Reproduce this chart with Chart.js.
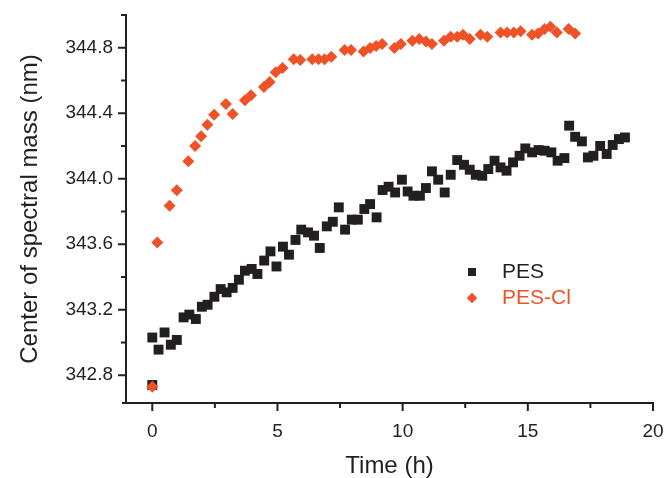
<!DOCTYPE html>
<html>
<head>
<meta charset="utf-8">
<script src="https://cdn.jsdelivr.net/npm/chart.js@4.4.1/dist/chart.umd.min.js"></script>
<style>
  html, body { margin: 0; padding: 0; background: #fff; }
  #chart { display: block; }
</style>
</head>
<body>
<canvas id="chart" width="668" height="478"></canvas>
<script>
// PES (black squares)
const pesTime = [0, 0, 0.25, 0.49, 0.74, 0.98, 1.25, 1.48, 1.74, 1.98, 2.21, 2.48, 2.73, 2.97, 3.21, 3.46, 3.7, 3.97, 4.2, 4.47,
  4.72, 4.96, 5.22, 5.46, 5.72, 5.95, 6.22, 6.46, 6.69, 6.97, 7.21, 7.45, 7.7, 7.97, 8.21, 8.47, 8.7, 8.96, 9.2, 9.44,
  9.7, 9.97, 10.2, 10.43, 10.69, 10.93, 11.17, 11.42, 11.68, 11.92, 12.18, 12.45, 12.68, 12.92, 13.18, 13.42, 13.67, 13.91, 14.15, 14.41,
  14.67, 14.9, 15.17, 15.43, 15.67, 15.94, 16.19, 16.46, 16.65, 16.89, 17.16, 17.4, 17.62, 17.89, 18.15, 18.39, 18.64, 18.88];
const pesCenter = [342.74, 343.03, 342.956, 343.061, 342.986, 343.015, 343.153, 343.17, 343.143, 343.218, 343.23, 343.279, 343.326, 343.306, 343.333, 343.383, 343.438, 343.449, 343.418, 343.5,
  343.556, 343.464, 343.585, 343.536, 343.626, 343.689, 343.672, 343.652, 343.577, 343.709, 343.737, 343.825, 343.689, 343.75, 343.75, 343.815, 343.845, 343.764, 343.931, 343.951,
  343.916, 343.994, 343.922, 343.896, 343.896, 343.943, 344.045, 343.994, 343.916, 344.024, 344.114, 344.085, 344.055, 344.024, 344.018, 344.059, 344.11, 344.069, 344.049, 344.1,
  344.14, 344.185, 344.161, 344.175, 344.171, 344.161, 344.11, 344.126, 344.324, 344.256, 344.228, 344.13, 344.14, 344.2, 344.151, 344.206, 344.242, 344.252];

// PES-Cl (orange diamonds)
const pesClTime = [0, 0.2, 0.69, 0.98, 1.44, 1.71, 1.95, 2.2, 2.47, 2.94, 3.21, 3.7, 3.94, 4.46, 4.69, 4.93, 5.2, 5.65, 5.91, 6.39,
  6.64, 6.88, 7.15, 7.68, 7.94, 8.44, 8.7, 8.94, 9.18, 9.67, 9.93, 10.39, 10.66, 10.93, 11.17, 11.65, 11.92, 12.18, 12.41, 12.68,
  13.11, 13.38, 13.91, 14.17, 14.44, 14.71, 15.17, 15.41, 15.67, 15.9, 16.16, 16.63, 16.89];
const pesClCenter = [342.73, 343.61, 343.835, 343.93, 344.106, 344.2, 344.26, 344.33, 344.39, 344.456, 344.395, 344.48, 344.51, 344.56, 344.59, 344.65, 344.676, 344.73, 344.725, 344.73,
  344.73, 344.73, 344.745, 344.786, 344.786, 344.777, 344.798, 344.81, 344.823, 344.798, 344.823, 344.843, 344.853, 344.838, 344.823, 344.843, 344.867, 344.867, 344.879, 344.853,
  344.879, 344.867, 344.893, 344.893, 344.893, 344.9, 344.879, 344.887, 344.914, 344.928, 344.893, 344.914, 344.887];

const seriesLabels = ['PES', 'PES-Cl'];
const xTickLabels = [0, 5, 10, 15, 20];
const xMinorTicks = [2.5, 7.5, 12.5, 17.5];
const yTickLabels = [342.8, 343.2, 343.6, 344.0, 344.4, 344.8];
const yMinorTicks = [343.0, 343.4, 343.8, 344.2, 344.6, 345.0];

const INK = '#231F20';
const ORANGE = '#F05228';
const FONT = '"Liberation Sans", Arial, sans-serif';

const toPoints = (xs, ys) => xs.map((x, i) => ({ x: x, y: ys[i] }));

// tick marks of two lengths, drawn outward from the axes
const tickMarks = {
  id: 'tickMarks',
  afterDraw(chart) {
    const ctx = chart.ctx;
    const xs = chart.scales.x, ys = chart.scales.y;
    const area = chart.chartArea;
    ctx.save();
    ctx.strokeStyle = INK;
    ctx.lineWidth = 2;
    ctx.beginPath();
    xTickLabels.forEach(v => { const p = xs.getPixelForValue(v); ctx.moveTo(p, area.bottom); ctx.lineTo(p, area.bottom + 8); });
    xMinorTicks.forEach(v => { const p = xs.getPixelForValue(v); ctx.moveTo(p, area.bottom); ctx.lineTo(p, area.bottom + 5); });
    yTickLabels.forEach(v => { const p = ys.getPixelForValue(v); ctx.moveTo(area.left, p); ctx.lineTo(area.left - 8, p); });
    yMinorTicks.forEach(v => { const p = ys.getPixelForValue(v); ctx.moveTo(area.left, p); ctx.lineTo(area.left - 5, p); });
    // x axis runs a little past the y axis
    ctx.moveTo(area.left, area.bottom);
    ctx.lineTo(area.left - 4, area.bottom);
    ctx.stroke();
    ctx.restore();
  }
};

// legend inside the plot area
const innerLegend = {
  id: 'innerLegend',
  afterDraw(chart) {
    const ctx = chart.ctx;
    const sizes = [5.5, 5];
    const colors = [INK, ORANGE];
    ctx.save();
    ctx.font = '21px ' + FONT;
    ctx.textBaseline = 'middle';
    chart.data.datasets.forEach((ds, i) => {
      const y = 272 + i * 26;
      ctx.fillStyle = ds.backgroundColor;
      Chart.helpers.drawPoint(ctx, { pointStyle: ds.pointStyle, radius: sizes[i], borderWidth: 0, rotation: 0 }, 472, y);
      ctx.fill();
      ctx.fillStyle = colors[i];
      ctx.fillText(ds.label, 502, y);
    });
    ctx.restore();
  }
};

new Chart(document.getElementById('chart'), {
  type: 'scatter',
  data: {
    datasets: [
      {
        label: seriesLabels[0],
        data: toPoints(pesTime, pesCenter),
        pointStyle: 'rect',
        pointRadius: 7,
        backgroundColor: INK,
        borderWidth: 0,
        order: 1
      },
      {
        label: seriesLabels[1],
        data: toPoints(pesClTime, pesClCenter),
        pointStyle: 'rectRot',
        pointRadius: 6,
        backgroundColor: ORANGE,
        borderWidth: 0,
        order: 0
      }
    ]
  },
  options: {
    responsive: false,
    animation: false,
    layout: { padding: { top: 15, right: 15, bottom: 0, left: 0 } },
    plugins: {
      legend: { display: false },
      tooltip: { enabled: false }
    },
    scales: {
      x: {
        type: 'linear',
        min: -1.05,
        max: 20,
        afterBuildTicks: s => { s.ticks = xTickLabels.map(v => ({ value: v })); },
        afterFit: s => { s.height = 75; s.paddingLeft = 0; s.paddingRight = 0; },
        grid: { display: false, drawTicks: false },
        border: { display: true, color: INK, width: 2 },
        ticks: { color: INK, padding: 17, font: { family: FONT, size: 19 }, maxRotation: 0 },
        title: { display: true, text: 'Time (h)', color: INK, font: { family: FONT, size: 24, lineHeight: 1 }, padding: { top: 0, bottom: 0 } }
      },
      y: {
        type: 'linear',
        min: 342.63,
        max: 345.0,
        afterBuildTicks: s => { s.ticks = yTickLabels.map(v => ({ value: v })); },
        afterFit: s => { s.width = 126; s.paddingTop = 0; s.paddingBottom = 0; },
        grid: { display: false, drawTicks: false },
        border: { display: true, color: INK, width: 2 },
        ticks: { color: INK, padding: 13, font: { family: FONT, size: 19 }, callback: v => v.toFixed(1) },
        title: { display: true, text: 'Center of spectral mass (nm)', color: INK, font: { family: FONT, size: 24, lineHeight: 1 }, padding: { top: 18, bottom: 0 } }
      }
    }
  },
  plugins: [tickMarks, innerLegend]
});
</script>
</body>
</html>
